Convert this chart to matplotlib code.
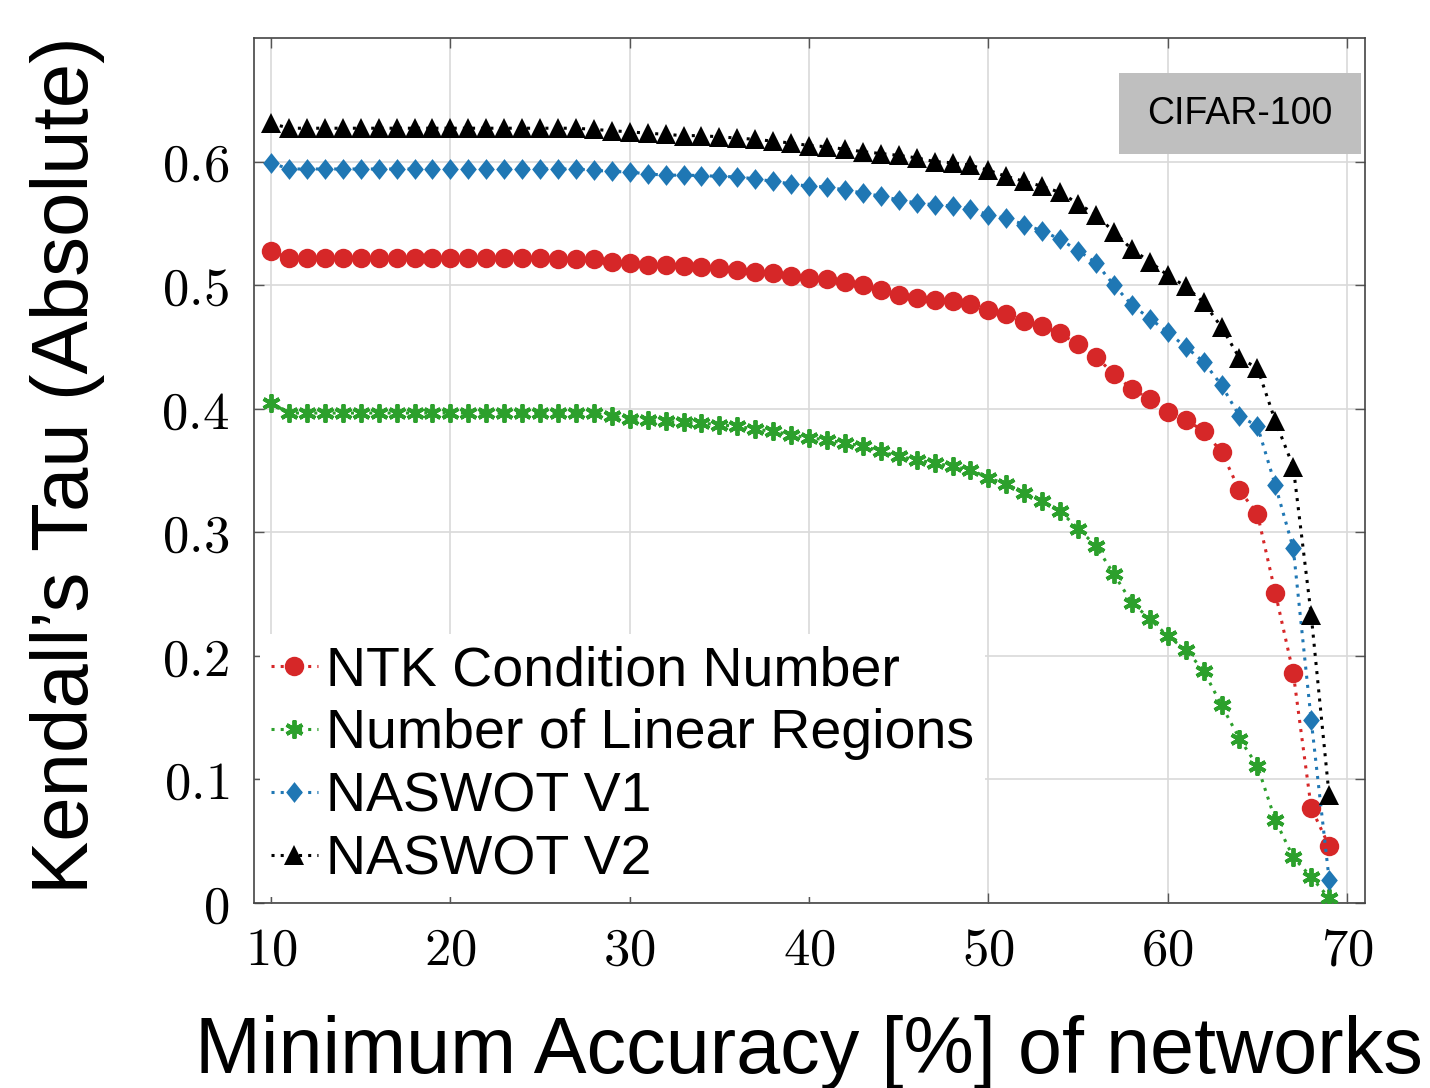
import matplotlib
matplotlib.use("Agg")
import matplotlib.pyplot as plt
from matplotlib.patches import Rectangle
from matplotlib.path import Path

# ---------------- data ----------------
min_acc = [10, 11, 12, 13, 14, 15, 16, 17, 18, 19,
           20, 21, 22, 23, 24, 25, 26, 27, 28, 29,
           30, 31, 32, 33, 34, 35, 36, 37, 38, 39,
           40, 41, 42, 43, 44, 45, 46, 47, 48, 49,
           50, 51, 52, 53, 54, 55, 56, 57, 58, 59,
           60, 61, 62, 63, 64, 65, 66, 67, 68, 69]

ntk_cond = [0.5275, 0.522, 0.522, 0.522, 0.522, 0.522, 0.522, 0.522, 0.522, 0.522,
            0.522, 0.522, 0.522, 0.522, 0.522, 0.522, 0.5215, 0.5215, 0.521, 0.519,
            0.518, 0.5166, 0.516, 0.5158, 0.515, 0.514, 0.5125, 0.511, 0.510, 0.5077,
            0.5058, 0.505, 0.5026, 0.5004, 0.4964, 0.4923, 0.4896, 0.4883, 0.487, 0.4848,
            0.480, 0.4765, 0.471, 0.467, 0.461, 0.452, 0.442, 0.428, 0.416, 0.408,
            0.397, 0.391, 0.382, 0.365, 0.334, 0.315, 0.251, 0.186, 0.077, 0.046]

lin_regions = [0.4046, 0.3965, 0.3965, 0.3965, 0.3965, 0.3965, 0.3965, 0.3965, 0.3965, 0.3965,
               0.3965, 0.3965, 0.3965, 0.3965, 0.3965, 0.3965, 0.3965, 0.3965, 0.3965, 0.394,
               0.3915, 0.3905, 0.3897, 0.389, 0.3884, 0.387, 0.3857, 0.3835, 0.3816, 0.379,
               0.3762, 0.375, 0.372, 0.370, 0.3654, 0.3614, 0.3587, 0.356, 0.3533, 0.3506,
               0.344, 0.339, 0.332, 0.325, 0.317, 0.303, 0.289, 0.266, 0.243, 0.230,
               0.216, 0.205, 0.188, 0.160, 0.133, 0.111, 0.067, 0.037, 0.021, 0.004]

naswot_v1 = [0.599, 0.594, 0.594, 0.594, 0.594, 0.594, 0.594, 0.594, 0.594, 0.594,
             0.594, 0.594, 0.594, 0.594, 0.594, 0.594, 0.594, 0.594, 0.593, 0.592,
             0.5915, 0.590, 0.589, 0.589, 0.5887, 0.588, 0.5876, 0.586, 0.584, 0.582,
             0.580, 0.5795, 0.577, 0.5746, 0.572, 0.569, 0.5665, 0.565, 0.564, 0.5617,
             0.557, 0.554, 0.549, 0.544, 0.537, 0.528, 0.518, 0.500, 0.484, 0.473,
             0.462, 0.450, 0.438, 0.419, 0.394, 0.386, 0.338, 0.287, 0.148, 0.019]

naswot_v2 = [0.631, 0.627, 0.627, 0.627, 0.627, 0.627, 0.627, 0.627, 0.627, 0.627,
             0.627, 0.627, 0.627, 0.627, 0.627, 0.627, 0.627, 0.627, 0.626, 0.625,
             0.624, 0.623, 0.622, 0.621, 0.621, 0.620, 0.619, 0.618, 0.6165, 0.615,
             0.613, 0.612, 0.610, 0.608, 0.6065, 0.605, 0.603, 0.600, 0.599, 0.597,
             0.593, 0.588, 0.584, 0.580, 0.575, 0.566, 0.557, 0.543, 0.529, 0.519,
             0.508, 0.499, 0.486, 0.466, 0.441, 0.433, 0.390, 0.353, 0.233, 0.087]

series_labels = ["NTK Condition Number", "Number of Linear Regions", "NASWOT V1", "NASWOT V2"]
x_ticks = [10, 20, 30, 40, 50, 60, 70]
x_tick_labels = ["10", "20", "30", "40", "50", "60", "70"]
y_ticks = [0, 0.1, 0.2, 0.3, 0.4, 0.5, 0.6]
y_tick_labels = ["0", "0.1", "0.2", "0.3", "0.4", "0.5", "0.6"]
x_label = "Minimum Accuracy [%] of networks"
y_label = "Kendall\u2019s Tau (Absolute)"
dataset_name = "CIFAR-100"

# ---------------- style ----------------
plt.rcParams["font.family"] = ["Liberation Sans", "DejaVu Sans"]
plt.rcParams["mathtext.fontset"] = "cm"

fig = plt.figure(figsize=(14.3, 10.88), dpi=100)
ax = fig.add_axes([254 / 1430, 1 - 903 / 1088, (1365 - 254) / 1430, (903 - 38) / 1088])

diamond = Path([(0, 1), (0.8, 0), (0, -1), (-0.8, 0), (0, 1)],
               [Path.MOVETO, Path.LINETO, Path.LINETO, Path.LINETO, Path.CLOSEPOLY])

dot = (0, (1, 2.0))
lw = 2.2
ax.plot(min_acc, ntk_cond, color="#d62728", linestyle=dot, lw=lw, marker="o",
        markersize=14, markeredgewidth=0, label=series_labels[0], zorder=3)
ax.plot(min_acc, lin_regions, color="#2ca02c", linestyle=dot, lw=lw, marker=(6, 2, 0),
        markersize=13, markeredgewidth=2.8, label=series_labels[1], zorder=3)
ax.plot(min_acc, naswot_v1, color="#1f77b4", linestyle=dot, lw=lw, marker=diamond,
        markersize=15, markeredgewidth=0, label=series_labels[2], zorder=3)
ax.plot(min_acc, naswot_v2, color="black", linestyle=dot, lw=lw, marker="^",
        markersize=14, markeredgewidth=0, label=series_labels[3], zorder=3)

ax.set_xlim(9.05, 71.0)
ax.set_ylim(0, 0.70)
ax.set_xticks(x_ticks)
ax.set_xticklabels(["$" + t + "$" for t in x_tick_labels])
ax.set_yticks(y_ticks)
ax.set_yticklabels(["$" + t + "$" for t in y_tick_labels])
ax.tick_params(axis="both", which="both", direction="in", length=7, width=1,
               color="#555555", labelsize=38, top=True, right=True)
ax.tick_params(axis="x", pad=16)
ax.tick_params(axis="y", pad=18)

ax.grid(True, color="#d9d9d9", linewidth=1.2, zorder=0)
ax.set_axisbelow(True)
for s in ax.spines.values():
    s.set_color("#444444")
    s.set_linewidth(1.2)

fig.text(809 / 1430, 1 - 1053 / 1088, x_label, fontsize=57, ha="center", va="center")
fig.text(68 / 1430, 1 - 465 / 1088, y_label, fontsize=57.5, ha="center", va="center",
         rotation=90)

# dataset box
ax.add_patch(Rectangle(((1119 - 254) / 1111, (903 - 154) / 865), 242 / 1111, 81 / 865,
                       transform=ax.transAxes, facecolor="#bfbfbf", edgecolor="none",
                       zorder=5))
ax.text((1240 - 254) / 1111, (903 - 113.5) / 865, dataset_name, transform=ax.transAxes,
        fontsize=27, ha="center", va="center", zorder=6)

leg = ax.legend(loc="lower left", bbox_to_anchor=(0.0, 0.0), fontsize=40,
                frameon=True, fancybox=False, edgecolor="none", facecolor="white",
                framealpha=1.0, numpoints=1, handlelength=0.85, handletextpad=0.15,
                borderpad=0.2, borderaxespad=0.1, labelspacing=0.2)
leg.set_zorder(4)

fig.savefig("out.png", dpi=100)
